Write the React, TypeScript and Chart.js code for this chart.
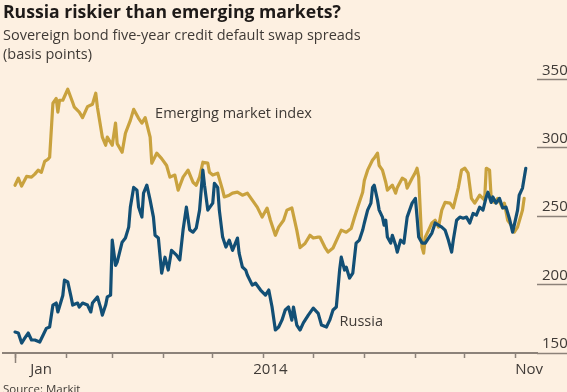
import React, { useEffect, useRef } from "react";
import { Chart, registerables } from "chart.js";
Chart.register(...registerables);

const TITLE = "Russia riskier than emerging markets?";
const SUBTITLE = ["Sovereign bond five-year credit default swap spreads", "(basis points)"];
const SOURCE = "Source: Markit";

// x values: days since 1 January 2014
const emDays = [0,2,4,7,10,12,14,16,18,20,21,23,25,26,27,29,32,35,36,39,41,44,47,49,50,53,55,56,59,61,62,65,67,70,72,75,77,79,82,83,86,89,92,94,97,99,102,105,108,110,112,114,117,118,120,123,126,127,130,132,135,138,141,144,147,150,153,155,158,160,163,165,168,171,173,176,179,181,184,185,188,190,193,196,198,201,204,206,208,211,212,214,217,218,220,221,223,225,226,229,231,232,235,237,238,241,243,244,245,247,248,249,251,253,255,257,259,261,264,266,269,271,273,275,277,279,282,285,286,288,289,291,293,296,297,299,302,303,305,308,309];
const emValues = [272.6,277.7,272,279,278.5,280.7,283.6,282,290,291.6,293,332.5,336,326,334.7,334.7,342.7,333,329.6,326,322,330,331.8,339.8,329.6,307.7,301.8,307.7,301.8,318,303,296.7,310.6,320,328,321.5,318,322,307.7,288.7,296,292,287,278.5,280,269,278.5,283.6,274.8,272.6,278.5,289.4,288.7,282,280,281.4,269,264,265.3,266.8,267.5,265.3,266.8,261.7,256.6,249.3,255.9,247,236,242,247,254.4,256,239.8,227,230,236,234,234.7,234.7,227.4,223.7,226.7,234.7,239.8,238.3,241,249,256.6,267.5,276,283.6,291,292.4,296,287,283.6,274.8,269,272.6,266.8,271,277.7,276.3,270.5,277.7,282,285,278.5,227.4,223,234.7,239.8,245,247,242,254.4,260,259.5,256,270.5,283.6,285,281.4,263,259.5,265.3,261.7,285,283.6,263,260,263,256,259.5,247,242,238.3,242,254.4,263];
const ruDays = [0,2,4,6,8,10,12,15,17,19,21,23,25,26,29,30,32,34,35,38,39,41,44,46,47,50,52,53,55,56,58,59,61,62,65,67,69,70,72,74,75,77,78,80,82,84,85,87,89,91,93,95,98,100,102,104,106,108,110,112,114,115,117,120,121,123,124,126,128,130,132,135,136,138,140,141,144,146,149,152,154,156,158,160,162,164,166,168,169,171,173,175,178,181,184,186,189,191,193,195,197,198,200,201,203,205,207,209,211,212,214,216,217,218,220,221,223,224,225,226,228,229,231,232,234,236,238,241,243,244,245,247,249,251,253,255,257,259,261,263,265,266,268,270,272,274,276,278,280,282,284,286,287,289,290,292,294,296,298,300,302,303,305,306,308,310];
const ruValues = [165.3,164.6,157.3,161,164.6,159.5,159.5,158,163,168,169,185,186.5,180,192,203.3,202,191,185,186.5,183.6,186.5,185,180,186.5,191,182.8,177.7,185,191,192.3,232.5,214,216.4,231,234,242,256.6,271,269,256.6,249.3,266.8,272.6,261.7,249.3,236,234,208.4,220,210.6,225,221.5,218,240,256.6,240,238.3,241.3,254.4,283.6,272.6,254.4,259.5,274,271,254.4,234.7,227.4,232.5,225,234,223,212.8,210.6,207,199.6,201,196,192.3,196,183.6,166.8,169,174,181.4,183.6,174,183.6,170.4,166.8,172,177.7,182.8,179,170.4,169,174,181.4,183.6,210.6,220,210.6,212.8,204.8,208.4,230.3,232.5,239.8,245,254.4,259.5,271,272.6,261.7,254.4,249.3,243.4,247,234.7,230.3,236,228.8,223.7,232.5,230.3,249.3,259.5,263,249.3,234.7,230.3,230.3,234,237.6,245,243.4,242,239.8,232.5,223.7,232.5,247,249.3,248.5,249.3,245,252,250.7,256.6,254.4,264,267.5,260,264,259.5,263,256,256.6,248.5,238.3,243.4,254.4,265.3,270.5,285];

const monthStartDays = [0, 31, 59, 90, 120, 151, 181, 212, 243, 273, 304];
const yearStartDays = [0];
const axisLabelDays = [15.8, 155, 312];
const axisLabels = ["Jan", "2014", "Nov"];
const yTickValues = [150, 200, 250, 300, 350];
const annotationTexts = ["Emerging market index", "Russia"];
const annotationDays = [85, 197];
const annotationValues = [324.5, 172.6];

const X_MIN = -7.3;
const X_MAX = 316.8;
const Y_MIN = 150;
const Y_MAX = 350;

const BG = "#fdf0e1";
const GOLD = "#c9a23e";
const BLUE = "#124f75";
const AXIS = "#8c8279";
const TEXT = "#3f3a36";
const FONT = "'Open Sans', 'Noto Sans', sans-serif";

const extrasPlugin = {
  id: "extras",
  afterDatasetsDraw(chart: any) {
    const ctx = chart.ctx;
    const xs = chart.scales.x;
    const ys = chart.scales.y;
    ctx.save();
    ctx.fillStyle = TEXT;
    ctx.font = `14.5px ${FONT}`;
    ctx.textAlign = "left";
    ctx.textBaseline = "middle";
    annotationTexts.forEach((t, i) => {
      ctx.fillText(t, xs.getPixelForValue(annotationDays[i]), ys.getPixelForValue(annotationValues[i]));
    });
    ctx.font = `11.5px ${FONT}`;
    ctx.textBaseline = "top";
    ctx.fillText(SOURCE, 3, 384);
    ctx.restore();
  },
};

export default function App() {
  const ref = useRef<HTMLCanvasElement | null>(null);
  useEffect(() => {
    if (!ref.current) return;
    const chart = new Chart(ref.current, {
      type: "line",
      data: {
        datasets: [
          {
            label: "Russia",
            data: ruDays.map((d, i) => ({ x: d, y: ruValues[i] })),
            borderColor: BLUE,
            borderWidth: 3.2,
            pointRadius: 0,
            borderJoinStyle: "round",
            borderCapStyle: "round",
            fill: false,
            xAxisID: "x",
            yAxisID: "y",
          },
          {
            label: "Emerging market index",
            data: emDays.map((d, i) => ({ x: d, y: emValues[i] })),
            borderColor: GOLD,
            borderWidth: 3.2,
            pointRadius: 0,
            borderJoinStyle: "round",
            borderCapStyle: "round",
            fill: false,
            xAxisID: "x",
            yAxisID: "y",
          },
        ],
      },
      options: {
        animation: false,
        responsive: true,
        maintainAspectRatio: false,
        layout: { padding: { left: 3, right: 0, top: 0, bottom: 0 } },
        plugins: {
          legend: { display: false },
          tooltip: { enabled: false },
          title: {
            display: true,
            text: TITLE,
            align: "start",
            color: "#1e1a18",
            font: { family: FONT, size: 17.6, weight: "bold", lineHeight: 1.2 },
            padding: { top: 2, bottom: 3 },
          },
          subtitle: {
            display: true,
            text: SUBTITLE,
            align: "start",
            color: TEXT,
            font: { family: FONT, size: 14.5, lineHeight: 1.33 },
            padding: { top: 0, bottom: 14.6 },
          },
        },
        scales: {
          x: {
            type: "linear",
            position: "bottom",
            min: X_MIN,
            max: X_MAX,
            weight: 0,
            afterBuildTicks: (s: any) => {
              s.ticks = monthStartDays.map((v) => ({ value: v }));
            },
            afterFit: (s: any) => {
              s.height = 0;
            },
            grid: { display: true, drawOnChartArea: false, drawTicks: true, tickLength: 5, tickColor: AXIS, tickWidth: 1.5, color: AXIS },
            border: { display: true, color: AXIS, width: 2 },
            ticks: { display: false },
          },
          xYear: {
            type: "linear",
            position: "bottom",
            min: X_MIN,
            max: X_MAX,
            weight: 1,
            afterBuildTicks: (s: any) => {
              s.ticks = yearStartDays.map((v) => ({ value: v }));
            },
            afterFit: (s: any) => {
              s.height = 0;
            },
            grid: { display: true, drawOnChartArea: false, drawTicks: true, tickLength: 10, tickColor: AXIS, tickWidth: 1.5, color: AXIS },
            border: { display: false },
            ticks: { display: false },
          },
          xLabels: {
            type: "linear",
            position: "bottom",
            min: X_MIN,
            max: X_MAX,
            weight: 2,
            afterBuildTicks: (s: any) => {
              s.ticks = axisLabelDays.map((v) => ({ value: v }));
            },
            afterFit: (s: any) => {
              s.height = 39;
            },
            grid: { display: false, drawTicks: false },
            border: { display: false },
            ticks: {
              autoSkip: false,
              maxRotation: 0,
              padding: 8,
              color: TEXT,
              font: { family: FONT, size: 15 },
              callback: (_v: any, i: number) => axisLabels[i],
            },
          },
          y: {
            type: "linear",
            position: "right",
            min: Y_MIN,
            max: Y_MAX,
            afterBuildTicks: (s: any) => {
              s.ticks = yTickValues.map((v) => ({ value: v }));
            },
            afterFit: (s: any) => {
              s.width = 30;
            },
            grid: { display: true, drawOnChartArea: false, drawTicks: true, tickLength: 30, tickColor: AXIS, tickWidth: 1.5, color: AXIS },
            border: { display: false },
            ticks: {
              padding: -25,
              labelOffset: -9,
              crossAlign: "near",
              color: TEXT,
              font: { family: FONT, size: 15 },
              callback: (v: any) => String(v),
            },
          },
        },
      } as any,
      plugins: [extrasPlugin],
    });
    return () => chart.destroy();
  }, []);

  return (
    <div style={{ position: "absolute", left: 0, top: 0, width: 567, height: 392, background: BG, overflow: "hidden" }}>
      <canvas ref={ref} />
    </div>
  );
}
